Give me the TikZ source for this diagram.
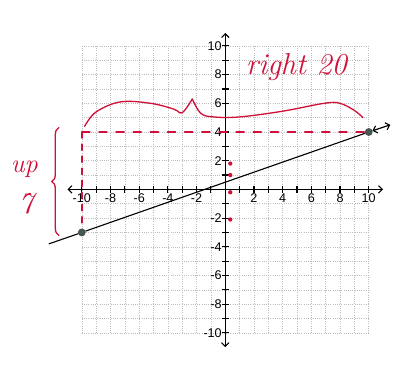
\documentclass[tikz,border=0pt]{standalone}
\usepackage{fontspec}
\setsansfont{Liberation Sans}
\usetikzlibrary{arrows.meta, calc, decorations.pathreplacing}
\definecolor{penred}{HTML}{D01038}
\definecolor{dotgreen}{HTML}{3F5E4E}
\definecolor{gridc}{HTML}{BDBDBD}
\newcommand{\pen}[1]{\fontsize{#1}{#1}\selectfont\itshape}

\begin{document}
\begin{tikzpicture}[x=0.5cm, y=0.5cm, >=Straight Barb, line width=1.1pt,
      font=\sffamily\fontsize{12.5}{13}\selectfont,
      gridline/.style={gridc, dash pattern=on 0.6pt off 1.6pt, line width=0.5pt},
      redpen/.style={penred, line width=1.3pt, line cap=round},
      pt/.style={circle, fill=dotgreen, draw=black!70, inner sep=0pt, minimum size=2.3mm}]
    \useasboundingbox (-15.7,-12.3) rectangle (11.9,13.2);
    % grid
    \foreach \k in {-10,...,10} {
      \draw[gridline] (\k,-10) -- (\k,10);
      \draw[gridline] (-10,\k) -- (10,\k);
    }
    % axes
    \coordinate (xl) at (-11,0);
    \coordinate (xr) at (11,0);
    \coordinate (yb) at (0,-11);
    \coordinate (yt) at (0,10.9);
    \draw[<->] (xl) -- (xr);
    \draw[<->] (yb) -- (yt);
    \foreach \k in {-10,...,-1,1,2,...,10} {
      \draw (\k,-0.25) -- (\k,0.25);
      \draw (-0.25,\k) -- (0.25,\k);
    }
    \foreach \k in {-10,-8,-6,-4,-2,2,4,6,8,10} {
      \node[below, inner sep=1.5pt] (xk\k) at (\k,-0.15) {\k};
      \node[left, inner sep=1.5pt] (yk\k) at (-0.1,\k) {\k};
    }
    % the line
    \node[pt] (p) at (-10,-3) {};
    \node[pt] (q) at (10,4) {};
    \coordinate (lend) at (-12.3,-3.8);
    \coordinate (rend) at (11.5,4.5);
    \draw[<->] (lend) -- (p) -- (q) -- (rend);
    % rise and run
    \coordinate (c) at (-10,4);
    \draw[redpen, line width=1.6pt, dash pattern=on 6pt off 6pt] (c) -- (p.north);
    \draw[redpen, dash pattern=on 8pt off 9pt] (c) -- (q);
    \draw[redpen] plot[smooth, tension=0.6] coordinates
      {(-9.8,4.4) (-9,5.4) (-7.3,6.1) (-5.2,6.0) (-3.6,5.6) (-3,5.35) (-2.3,6.3)};
    \draw[redpen] plot[smooth, tension=0.6] coordinates
      {(-2.3,6.3) (-1.7,5.3) (-0.8,5.05) (1,5.05) (4,5.45) (6.9,6.0) (8,6.0) (9,5.5) (9.6,5.0)};
    \draw[redpen, decorate, decoration={brace, amplitude=7pt}]
      (-11.6,-3.2) -- (-11.6,4.3);
    \foreach \y in {1.8,1.0,-0.2,-2.1}
      \fill[penred] (0.35,\y) circle (0.15);
    % handwriting
    \node[penred, font=\rmfamily\pen{30}] (run) at (4.95,8.5) {right 20};
    \node[penred, font=\rmfamily\pen{26}] (up) at (-14,1.4) {up};
    \node[penred, font=\rmfamily\pen{30}] (rise) at (-13.9,-1.0) {7};
  \end{tikzpicture}
\end{document}
